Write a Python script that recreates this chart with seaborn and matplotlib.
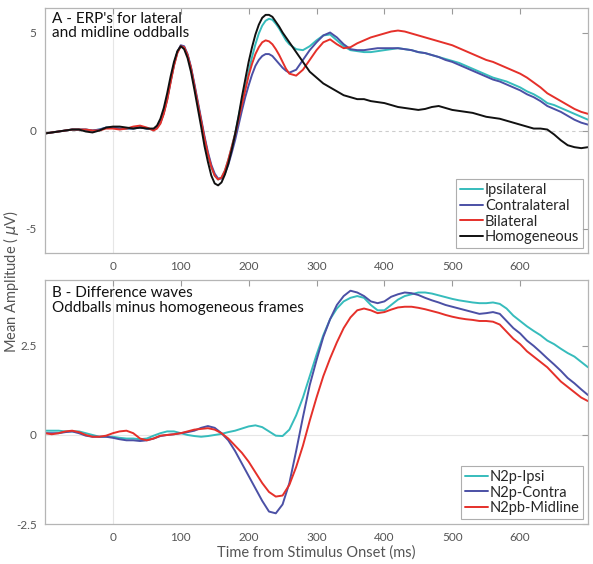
import numpy as np
import pandas as pd
import matplotlib
matplotlib.use('Agg')
import matplotlib.pyplot as plt
import seaborn as sns

# time axes in ms: panel A is sampled every 5 ms around the fast early components
TIME_A = np.concatenate([np.arange(-100, 61, 10), np.arange(65, 261, 5), np.arange(270, 701, 10)])
TIME_B = np.arange(-100, 701, 10)

# Panel A - ERP's
ipsilateral = [
    -0.15, -0.1, -0.05, 0.0, 0.05, 0.05, 0.05, 0.0, 0.05, 0.15,
    0.15, 0.1, 0.1, 0.1, 0.15, 0.1, 0.05,
    0.15, 0.4, 0.9, 1.6, 2.5, 3.35, 4.0, 4.3,
    4.25, 3.85, 3.2, 2.3, 1.4, 0.5, -0.4, -1.2, -1.85, -2.3,
    -2.5, -2.4, -2.05, -1.5, -0.85, -0.15, 0.7, 1.5, 2.25, 3.0,
    3.75, 4.4, 4.95, 5.35, 5.6, 5.7, 5.65, 5.45, 5.2, 4.9,
    4.6, 4.4,
    4.15, 4.1, 4.3, 4.6, 4.85, 4.9,
    4.6, 4.3, 4.1, 4.05, 4.0,
    4.0, 4.05, 4.1, 4.15, 4.2,
    4.15, 4.1, 4.0, 3.95, 3.85,
    3.75, 3.65, 3.55, 3.45, 3.3,
    3.15, 3.0, 2.85, 2.7, 2.6,
    2.5, 2.35, 2.2, 2.0, 1.85,
    1.65, 1.4, 1.3, 1.15, 1.0,
    0.85, 0.7, 0.55]
contralateral = [
    -0.15, -0.1, -0.05, 0.0, 0.05, 0.05, 0.05, 0.0, 0.05, 0.15,
    0.15, 0.1, 0.1, 0.1, 0.15, 0.1, 0.05,
    0.15, 0.4, 0.9, 1.6, 2.5, 3.35, 4.0, 4.35,
    4.3, 3.9, 3.25, 2.4, 1.5, 0.6, -0.3, -1.1, -1.75, -2.2,
    -2.45, -2.45, -2.2, -1.75, -1.15, -0.5, 0.25, 1.0, 1.7, 2.3,
    2.85, 3.3, 3.6, 3.8, 3.9, 3.9, 3.8, 3.6, 3.4, 3.2,
    3.05, 2.95,
    3.1, 3.6, 4.1, 4.5, 4.85, 5.0,
    4.75, 4.4, 4.15, 4.1, 4.1,
    4.15, 4.2, 4.2, 4.2, 4.2,
    4.15, 4.1, 4.0, 3.95, 3.85,
    3.75, 3.6, 3.5, 3.35, 3.2,
    3.05, 2.9, 2.75, 2.6, 2.5,
    2.35, 2.2, 2.05, 1.85, 1.7,
    1.5, 1.25, 1.1, 0.95, 0.75,
    0.55, 0.4, 0.3]
bilateral = [
    -0.15, -0.1, -0.05, 0.0, 0.05, 0.05, 0.05, 0.0, 0.0, 0.1,
    0.1, 0.05, 0.1, 0.2, 0.25, 0.15, 0.0,
    0.1, 0.35, 0.85, 1.55, 2.45, 3.3, 3.95, 4.3,
    4.25, 3.85, 3.2, 2.3, 1.4, 0.5, -0.4, -1.2, -1.85, -2.3,
    -2.5, -2.4, -2.05, -1.5, -0.85, -0.2, 0.55, 1.3, 2.05, 2.8,
    3.4, 3.9, 4.25, 4.5, 4.6, 4.55, 4.4, 4.15, 3.85, 3.5,
    3.15, 2.9,
    2.8, 3.1, 3.6, 4.1, 4.5, 4.65,
    4.4, 4.2, 4.25, 4.45, 4.6,
    4.75, 4.85, 4.95, 5.05, 5.1,
    5.05, 4.95, 4.85, 4.75, 4.65,
    4.55, 4.45, 4.35, 4.2, 4.05,
    3.9, 3.75, 3.6, 3.5, 3.35,
    3.2, 3.05, 2.9, 2.7, 2.45,
    2.2, 1.9, 1.7, 1.5, 1.3,
    1.1, 0.95, 0.85]
homogeneous = [
    -0.15, -0.1, -0.05, 0.0, 0.05, 0.05, -0.05, -0.1, 0.0, 0.15,
    0.2, 0.2, 0.15, 0.1, 0.15, 0.1, 0.1,
    0.25, 0.6, 1.15, 1.9, 2.75, 3.5, 4.05, 4.3,
    4.15, 3.7, 3.0, 2.1, 1.15, 0.2, -0.8, -1.6, -2.3, -2.7,
    -2.8, -2.65, -2.25, -1.7, -1.0, -0.2, 0.7, 1.7, 2.6, 3.5,
    4.25, 4.9, 5.4, 5.75, 5.9, 5.9, 5.8, 5.55, 5.3, 5.0,
    4.75, 4.5,
    4.0, 3.5, 3.0, 2.7, 2.4, 2.2,
    2.0, 1.8, 1.7, 1.6, 1.6,
    1.5, 1.45, 1.4, 1.3, 1.2,
    1.15, 1.1, 1.05, 1.1, 1.2,
    1.25, 1.15, 1.05, 1.0, 0.95,
    0.9, 0.8, 0.7, 0.65, 0.6,
    0.5, 0.4, 0.3, 0.2, 0.1,
    0.1, 0.05, -0.2, -0.5, -0.75,
    -0.85, -0.9, -0.85]

# Panel B - difference waves
n2p_ipsi = [
    0.12, 0.12, 0.12, 0.1, 0.1, 0.1, 0.05, 0.0, -0.05, -0.05,
    -0.05, -0.08, -0.1, -0.1, -0.12, -0.1, -0.02, 0.05, 0.1, 0.1,
    0.05, 0.0, -0.03, -0.05, -0.03, 0.0, 0.03, 0.08, 0.12, 0.18,
    0.24, 0.27, 0.22, 0.1, -0.02, -0.03, 0.15, 0.55, 1.05, 1.65,
    2.25, 2.8, 3.25, 3.55, 3.75, 3.85, 3.9, 3.85, 3.65, 3.5,
    3.5, 3.65, 3.8, 3.9, 3.95, 4.0, 4.0, 3.97, 3.92, 3.87,
    3.82, 3.78, 3.75, 3.72, 3.7, 3.7, 3.72, 3.68, 3.55, 3.35,
    3.2, 3.05, 2.92, 2.8, 2.65, 2.55, 2.42, 2.3, 2.2, 2.05,
    1.9]
n2p_contra = [
    0.05, 0.05, 0.05, 0.08, 0.1, 0.05, -0.02, -0.05, -0.05, -0.05,
    -0.08, -0.12, -0.15, -0.15, -0.17, -0.15, -0.1, -0.03, 0.0, 0.02,
    0.05, 0.08, 0.12, 0.2, 0.25, 0.2, 0.05, -0.15, -0.45, -0.8,
    -1.15, -1.5, -1.85, -2.15, -2.2, -1.95, -1.35, -0.45, 0.5, 1.4,
    2.1, 2.75, 3.25, 3.65, 3.9, 4.05, 4.0, 3.9, 3.75, 3.7,
    3.75, 3.88, 3.95, 4.0, 3.98, 3.93, 3.85, 3.78, 3.72, 3.65,
    3.6, 3.55, 3.5, 3.45, 3.4, 3.42, 3.45, 3.4, 3.2, 3.0,
    2.85, 2.65, 2.5, 2.33, 2.15, 1.98, 1.8, 1.6, 1.45, 1.28,
    1.12]
n2pb_midline = [
    0.05, 0.02, 0.05, 0.1, 0.12, 0.08, 0.0, -0.05, -0.05, -0.02,
    0.05, 0.1, 0.12, 0.05, -0.1, -0.15, -0.1, -0.02, 0.0, 0.02,
    0.05, 0.1, 0.15, 0.17, 0.19, 0.15, 0.05, -0.1, -0.3, -0.5,
    -0.75, -1.05, -1.35, -1.6, -1.73, -1.7, -1.4, -0.9, -0.3, 0.4,
    1.05, 1.65, 2.15, 2.6, 3.0, 3.3, 3.5, 3.55, 3.5, 3.42,
    3.45, 3.52, 3.58, 3.6, 3.6, 3.57, 3.53, 3.48, 3.43, 3.37,
    3.32, 3.28, 3.25, 3.23, 3.2, 3.2, 3.18, 3.1, 2.9, 2.7,
    2.55, 2.35, 2.2, 2.05, 1.9, 1.7, 1.5, 1.35, 1.2, 1.05,
    0.95]

XTICKS = [0, 100, 200, 300, 400, 500, 600]

CYAN = '#36bcbc'
BLUE = '#4b50a5'
RED = '#e5302a'
BLACK = '#111111'


def to_long(time, series):
    frames = []
    for name, vals in series.items():
        assert len(vals) == len(time), name
        frames.append(pd.DataFrame({'time': time, 'amp': vals, 'cond': name}))
    return pd.concat(frames, ignore_index=True)


def style_axis(ax, yticks, yticklabels, ylim):
    ax.set_xlim(-100, 700)
    ax.set_ylim(*ylim)
    ax.set_xticks(XTICKS)
    ax.set_yticks(yticks)
    ax.set_yticklabels(yticklabels)
    ax.tick_params(direction='in', length=4, width=0.8, color='#9a9a9a',
                   labelcolor='#555555', labelsize=8.5, top=True, right=True,
                   pad=6)
    for sp in ax.spines.values():
        sp.set_visible(True)
        sp.set_color('#b5b5b5')
        sp.set_linewidth(0.9)
    ax.set_xlabel('')
    ax.set_ylabel('')
    ax.axvline(0, color='#e6e6e6', lw=0.8, zorder=0)


sns.set_theme(style='white')
plt.rcParams['font.family'] = ['Lato', 'DejaVu Sans']

fig = plt.figure(figsize=(5.93, 5.64), dpi=100)
ax_a = fig.add_axes([0.0759, 0.5514, 0.9157, 0.4344])
ax_b = fig.add_axes([0.0759, 0.0709, 0.9157, 0.4326])

df_a = to_long(TIME_A, {'Ipsilateral': ipsilateral, 'Contralateral': contralateral,
                        'Bilateral': bilateral, 'Homogeneous': homogeneous})
df_b = to_long(TIME_B, {'N2p-Ipsi': n2p_ipsi, 'N2p-Contra': n2p_contra,
                        'N2pb-Midline': n2pb_midline})

sns.lineplot(data=df_a, x='time', y='amp', hue='cond', ax=ax_a,
             palette=[CYAN, BLUE, RED, BLACK], linewidth=1.4)
sns.lineplot(data=df_b, x='time', y='amp', hue='cond', ax=ax_b,
             palette=[CYAN, BLUE, RED], linewidth=1.4)

style_axis(ax_a, [-5, 0, 5], ['-5', '0', '5'], (-6.25, 6.25))
style_axis(ax_b, [-2.5, 0, 2.5], ['-2.5', '0', '2.5'], (-2.5, 4.35))
ax_a.axhline(0, color='#cccccc', lw=0.8, ls=(0, (3, 3)), zorder=0)
ax_b.axhline(0, color='#e6e6e6', lw=0.8, zorder=0)

for ax in (ax_a, ax_b):
    handles, labels = ax.get_legend_handles_labels()
    leg = ax.legend(handles, labels, loc='lower right', fontsize=10.5,
                    frameon=True, fancybox=False, handlelength=1.6,
                    handletextpad=0.1, borderpad=0.25, labelspacing=0.12,
                    borderaxespad=0.35)
    leg.get_frame().set_edgecolor('#9a9a9a')
    leg.get_frame().set_linewidth(0.8)

ax_a.text(0.012, 0.985, "A - ERP's for lateral\nand midline oddballs",
          transform=ax_a.transAxes, ha='left', va='top', fontsize=11,
          linespacing=1.05, color='#111111')
ax_b.text(0.012, 0.975, 'B - Difference waves\nOddballs minus homogeneous frames',
          transform=ax_b.transAxes, ha='left', va='top', fontsize=11,
          linespacing=1.05, color='#111111')

fig.text(0.018, 0.5, 'Mean Amplitude ( $\\mu$V)', rotation=90, ha='center',
         va='center', fontsize=10.5, color='#555555')
fig.text(0.533, 0.02, 'Time from Stimulus Onset (ms)', ha='center',
         va='center', fontsize=10.5, color='#555555')

fig.savefig('out.png', dpi=100)
